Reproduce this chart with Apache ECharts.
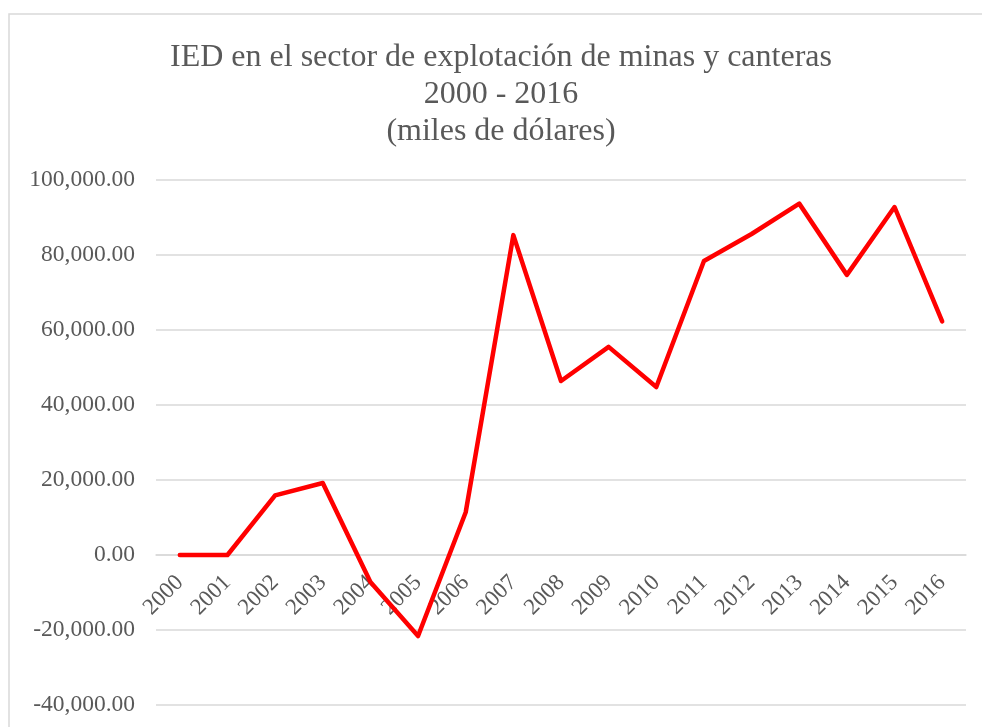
<!DOCTYPE html>
<html>
<head>
<meta charset="utf-8">
<script src="https://cdn.jsdelivr.net/npm/echarts@6/dist/echarts.min.js"></script>
<style>
html,body{margin:0;padding:0;background:#fff;}
#chart{width:982px;height:727px;}
</style>
</head>
<body>
<div id="chart"></div>
<script>
var years = ['2000','2001','2002','2003','2004','2005','2006','2007','2008','2009','2010','2011','2012','2013','2014','2015','2016'];
var ied = [0, 0, 15900, 19200, -7200, -21600, 11400, 85300, 46400, 55500, 44800, 78400, 85600, 93700, 74700, 92800, 62300];
var yTicks = {min: -40000, max: 100000, interval: 20000};
var titleLines = ['IED en el sector de explotación de minas y canteras', '2000 - 2016', '(miles de dólares)'];

var chart = echarts.init(document.getElementById('chart'), null, {renderer: 'canvas'});
var serif = '"Liberation Serif", "Times New Roman", serif';
var gridTop = 180, gridBottom = 22, plotH = 727 - gridTop - gridBottom;
// place category axis at value 0 (offset from grid bottom, computed from the value scale)
var zeroOffset = -plotH * (0 - yTicks.min) / (yTicks.max - yTicks.min);
chart.setOption({
  backgroundColor: '#ffffff',
  animation: false,
  graphic: [{
    type: 'rect', z: -1,
    shape: {x: 9, y: 14, width: 1000, height: 800},
    style: {fill: '#ffffff', stroke: '#d9d9d9', lineWidth: 1.5}
  }],
  title: {
    text: titleLines.join('\n'),
    left: 501, top: 39, textAlign: 'center', padding: 0,
    textStyle: {fontFamily: serif, fontSize: 32, fontWeight: 'normal', color: '#595959', lineHeight: 37}
  },
  grid: {left: 156, right: 16, top: gridTop, bottom: gridBottom, containLabel: false, outerBoundsMode: 'none'},
  xAxis: {
    type: 'category', data: years, boundaryGap: true, position: 'bottom', offset: zeroOffset,
    axisLine: {show: true, onZero: false, lineStyle: {color: '#d9d9d9', width: 1.5}},
    axisTick: {show: false},
    axisLabel: {rotate: 45, margin: 24, fontFamily: serif, fontSize: 23, color: '#595959', interval: 0}
  },
  yAxis: {
    type: 'value', min: yTicks.min, max: yTicks.max, interval: yTicks.interval,
    axisLine: {show: false}, axisTick: {show: false},
    splitLine: {lineStyle: {color: '#d9d9d9', width: 1.5}},
    axisLabel: {
      margin: 21, fontFamily: serif, fontSize: 23.5, color: '#595959',
      formatter: function (v) {
        return v.toLocaleString('en-US', {minimumFractionDigits: 2, maximumFractionDigits: 2});
      }
    }
  },
  series: [{
    type: 'line', data: ied, symbol: 'none', smooth: false,
    lineStyle: {color: '#ff0000', width: 4.5, cap: 'round', join: 'round'}
  }]
});
</script>
</body>
</html>
